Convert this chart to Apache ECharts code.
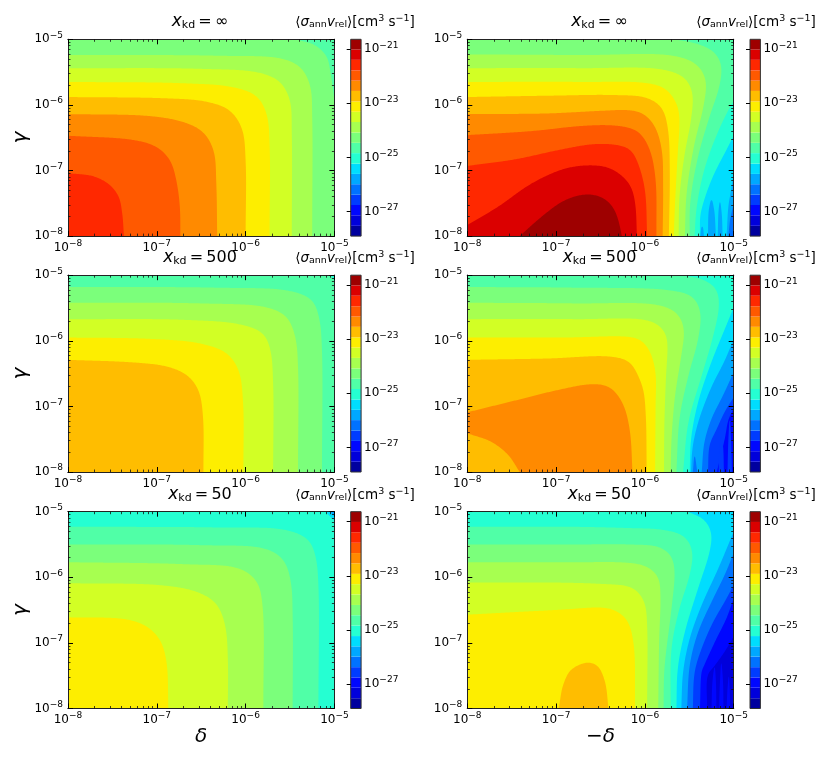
<!DOCTYPE html>
<html><head><meta charset="utf-8">
<style>html,body{margin:0;padding:0;background:#fff}#c{width:831px;height:760px}</style>
<script src="https://cdn.jsdelivr.net/npm/echarts@6/dist/echarts.min.js"></script>
</head><body><div id="c"></div>
<script>
// Colour-band edges of the colour bar, log10 of <sigma v> (bottom to top)
const bandEdges = [-27.91,-27.53,-27.14,-26.76,-26.38,-25.99,-25.61,-25.23,-24.84,-24.46,-24.08,-23.69,-23.31,-22.93,-22.54,-22.16,-21.78,-21.39,-21.01,-20.63];
const bandColors = ['#00009e','#0000db','#0007ff','#003cff','#0072ff','#00a8ff','#00ddfe','#25ffd2','#50ffa7','#7bff7b','#a7ff50','#d2ff25','#fdee00','#ffbd00','#ff8a00','#ff5900','#ff2800','#db0000','#9e0000'];
const cbarTicks = [-27,-25,-23,-21];
const axisTicks = [-8,-7,-6,-5];
const minorFractions = [0.301,0.477,0.602,0.699,0.778,0.845,0.903,0.954];

// Contours: [band, [[log10 delta, log10 gamma], ...]], painted in order.
const infPosBase = 8;
const infPos = [
 [9,[[-5.44,-5],[-5.22,-5.09],[-5.09,-5.26],[-5.04,-5.54],[-5,-5.93]]],
 [10,[[-8,-5.24],[-6.33,-5.25],[-5.57,-5.3],[-5.37,-5.44],[-5.27,-5.72],[-5.25,-6.18],[-5.25,-8]]],
 [11,[[-8,-5.44],[-6.51,-5.45],[-5.84,-5.51],[-5.61,-5.65],[-5.5,-5.93],[-5.48,-6.43],[-5.48,-8]]],
 [12,[[-8,-5.65],[-6.7,-5.67],[-6.14,-5.73],[-5.87,-5.87],[-5.76,-6.15],[-5.73,-6.59],[-5.73,-8]]],
 [13,[[-8,-5.88],[-6.89,-5.9],[-6.44,-5.95],[-6.18,-6.08],[-6.04,-6.36],[-6.0,-6.84],[-6.0,-8]]],
 [14,[[-8,-6.14],[-7.08,-6.17],[-6.7,-6.26],[-6.48,-6.41],[-6.36,-6.69],[-6.33,-7.2],[-6.32,-8]]],
 [15,[[-8,-6.47],[-7.26,-6.535],[-7,-6.64],[-6.85,-6.84],[-6.78,-7.15],[-6.74,-7.55],[-6.735,-8]]],
 [16,[[-8,-7.04],[-7.71,-7.09],[-7.53,-7.22],[-7.43,-7.4],[-7.39,-7.65],[-7.37,-8]]]
];
const infNegBase = 6;
const infNeg = [
 [5,[[-5.29,-8],[-5.28,-7.6],[-5.25,-7.44],[-5.22,-7.6],[-5.2,-8]]],
 [5,[[-5.18,-8],[-5.17,-7.6],[-5.155,-7.47],[-5.135,-7.65],[-5.125,-8]]],
 [5,[[-5.375,-8],[-5.36,-7.85],[-5.35,-7.85],[-5.335,-8]]],
 [5,[[-5.08,-8],[-5.06,-7.55],[-5.03,-7.3],[-5,-7.05]]],
 [4,[[-5.06,-8],[-5.04,-7.75],[-5,-7.5]]],
 [7,[[-5,-6.47],[-5.08,-6.68],[-5.23,-7.08],[-5.33,-7.44],[-5.375,-7.69],[-5.38,-8]]],
 [8,[[-5,-5.94],[-5.045,-6.04],[-5.18,-6.42],[-5.33,-6.98],[-5.42,-7.59],[-5.44,-8]]],
 [9,[[-5.68,-5],[-5.46,-5.05],[-5.23,-5.18],[-5.14,-5.38],[-5.16,-5.71],[-5.27,-6.17],[-5.40,-6.78],[-5.49,-7.49],[-5.495,-8]]],
 [10,[[-8,-5.23],[-6.71,-5.24],[-5.68,-5.25],[-5.42,-5.38],[-5.315,-5.61],[-5.34,-6.02],[-5.44,-6.58],[-5.53,-7.34],[-5.55,-8]]],
 [11,[[-8,-5.44],[-6.71,-5.44],[-5.8,-5.46],[-5.55,-5.59],[-5.465,-5.81],[-5.48,-6.22],[-5.55,-6.73],[-5.61,-7.39],[-5.62,-8]]],
 [12,[[-8,-5.65],[-6.71,-5.65],[-5.96,-5.67],[-5.76,-5.76],[-5.63,-6.02],[-5.61,-6.22],[-5.63,-6.73],[-5.66,-7.49],[-5.675,-8]]],
 [13,[[-8,-5.88],[-7.09,-5.86],[-6.34,-5.85],[-5.98,-5.89],[-5.81,-6.04],[-5.74,-6.37],[-5.72,-6.98],[-5.73,-8]]],
 [14,[[-8,-6.14],[-7.09,-6.13],[-6.49,-6.09],[-6.17,-6.08],[-6.02,-6.13],[-5.89,-6.32],[-5.81,-6.68],[-5.795,-7.24],[-5.8,-8]]],
 [15,[[-8,-6.46],[-7.28,-6.40],[-6.71,-6.32],[-6.38,-6.31],[-6.17,-6.35],[-6.06,-6.42],[-5.945,-6.68],[-5.88,-7.13],[-5.87,-8]]],
 [16,[[-8,-6.93],[-7.46,-6.83],[-6.98,-6.69],[-6.6,-6.6],[-6.38,-6.6],[-6.17,-6.67],[-6.08,-6.88],[-6.0,-7.29],[-5.975,-8]]],
 [17,[[-8,-7.83],[-7.65,-7.55],[-7.28,-7.2],[-6.9,-6.97],[-6.6,-6.92],[-6.38,-6.97],[-6.17,-7.21],[-6.11,-7.49],[-6.09,-8]]],
 [18,[[-7.41,-8],[-7.16,-7.7],[-6.9,-7.45],[-6.64,-7.36],[-6.45,-7.43],[-6.34,-7.6],[-6.28,-7.86],[-6.26,-8]]]
];
const k500PosBase = 8;
const k500Pos = [
 [7,[[-5,-5.08],[-5.05,-5]]],
 [9,[[-8,-5.18],[-6.33,-5.19],[-5.5,-5.24],[-5.25,-5.38],[-5.17,-5.66],[-5.14,-6.14],[-5.14,-8]]],
 [10,[[-8,-5.42],[-6.51,-5.43],[-5.76,-5.49],[-5.54,-5.63],[-5.44,-5.94],[-5.41,-6.39],[-5.41,-8]]],
 [11,[[-8,-5.67],[-6.7,-5.68],[-6.06,-5.75],[-5.8,-5.89],[-5.72,-6.14],[-5.69,-6.65],[-5.69,-8]]],
 [12,[[-8,-5.95],[-7.08,-5.97],[-6.51,-6.04],[-6.21,-6.19],[-6.08,-6.44],[-6.03,-6.9],[-6.025,-8]]],
 [13,[[-8,-6.29],[-7.26,-6.33],[-6.89,-6.39],[-6.66,-6.52],[-6.53,-6.75],[-6.48,-7.15],[-6.475,-8]]]
];
const k500NegBase = 2;
const k500Neg = [
 [3,[[-5,-7.03],[-5.06,-7.21],[-5.10,-7.49],[-5.19,-8]]],
 [3,[[-5.17,-8],[-5.16,-7.6],[-5.14,-7.45],[-5.12,-7.6],[-5.11,-8]]],
 [3,[[-5.07,-8],[-5.06,-7.5],[-5.045,-7.2],[-5.03,-7.5],[-5.02,-8]]],
 [4,[[-5,-6.86],[-5.10,-7.08],[-5.19,-7.34],[-5.27,-7.59],[-5.29,-8]]],
 [5,[[-5,-6.48],[-5.12,-6.83],[-5.25,-7.19],[-5.33,-7.55],[-5.36,-8]]],
 [4,[[-5.46,-8],[-5.44,-7.75],[-5.41,-8]]],
 [6,[[-5,-5.97],[-5.10,-6.30],[-5.25,-6.70],[-5.40,-7.24],[-5.465,-7.64],[-5.48,-8]]],
 [7,[[-5,-5.49],[-5.10,-5.82],[-5.25,-6.32],[-5.40,-6.93],[-5.48,-7.49],[-5.495,-8]]],
 [8,[[-5.61,-5],[-5.345,-5.065],[-5.195,-5.21],[-5.165,-5.46],[-5.23,-5.92],[-5.36,-6.53],[-5.51,-7.24],[-5.57,-8]]],
 [9,[[-8,-5.18],[-6.8,-5.19],[-5.72,-5.23],[-5.46,-5.33],[-5.375,-5.56],[-5.40,-5.97],[-5.51,-6.53],[-5.61,-7.18],[-5.645,-8]]],
 [10,[[-8,-5.42],[-6.8,-5.43],[-5.83,-5.46],[-5.63,-5.59],[-5.56,-5.82],[-5.59,-6.22],[-5.66,-6.83],[-5.70,-7.49],[-5.71,-8]]],
 [11,[[-8,-5.67],[-6.8,-5.67],[-5.91,-5.71],[-5.765,-5.89],[-5.745,-6.12],[-5.76,-6.48],[-5.78,-7.24],[-5.785,-8]]],
 [12,[[-8,-5.95],[-6.9,-5.95],[-6.17,-5.94],[-6.04,-5.99],[-5.94,-6.17],[-5.88,-6.48],[-5.88,-6.98],[-5.885,-8]]],
 [13,[[-8,-6.29],[-7.09,-6.27],[-6.38,-6.24],[-6.17,-6.32],[-6.095,-6.48],[-6.02,-6.73],[-5.99,-7.13],[-5.98,-8]]],
 [14,[[-8,-7.09],[-7.46,-6.91],[-6.98,-6.75],[-6.6,-6.66],[-6.4,-6.7],[-6.25,-6.95],[-6.17,-7.36],[-6.14,-8]]],
 [13,[[-8,-7.41],[-7.73,-7.54],[-7.54,-7.74],[-7.41,-8]]]
];
const k50PosBase = 7;
const k50Pos = [
 [6,[[-5,-5.14],[-5.1,-5]]],
 [5,[[-5,-5.07],[-5.05,-5]]],
 [8,[[-8,-5.23],[-6.33,-5.24],[-5.54,-5.28],[-5.29,-5.43],[-5.21,-5.69],[-5.18,-6.12],[-5.18,-8]]],
 [9,[[-8,-5.5],[-6.51,-5.51],[-5.76,-5.57],[-5.57,-5.74],[-5.49,-6.07],[-5.47,-6.6],[-5.47,-8]]],
 [10,[[-8,-5.77],[-6.7,-5.8],[-6.06,-5.87],[-5.87,-6.07],[-5.81,-6.42],[-5.8,-8]]],
 [11,[[-8,-6.09],[-6.96,-6.12],[-6.55,-6.22],[-6.33,-6.40],[-6.23,-6.73],[-6.2,-7.24],[-6.2,-8]]],
 [12,[[-8,-6.61],[-7.34,-6.64],[-7.11,-6.75],[-6.96,-6.96],[-6.89,-7.29],[-6.87,-8]]]
];
const k50NegBase = 1;
const k50Neg = [
 [2,[[-5,-6.90],[-5.10,-7.13],[-5.21,-7.34],[-5.29,-7.49],[-5.30,-8]]],
 [2,[[-5.25,-8],[-5.24,-7.6],[-5.215,-7.36],[-5.2,-7.6],[-5.195,-8]]],
 [2,[[-5.165,-8],[-5.155,-7.6],[-5.14,-7.3],[-5.12,-7.6],[-5.115,-8]]],
 [2,[[-5.08,-8],[-5.07,-7.7],[-5.055,-7.5],[-5.045,-7.7],[-5.04,-8]]],
 [3,[[-5,-6.32],[-5.08,-6.62],[-5.21,-6.98],[-5.33,-7.335],[-5.36,-7.44],[-5.38,-8]]],
 [4,[[-5,-6.115],[-5.10,-6.37],[-5.23,-6.675],[-5.36,-7.08],[-5.44,-7.44],[-5.46,-8]]],
 [5,[[-5,-5.63],[-5.10,-5.96],[-5.23,-6.32],[-5.40,-6.83],[-5.495,-7.335],[-5.525,-8]]],
 [6,[[-5,-5.30],[-5.06,-5.5],[-5.18,-5.885],[-5.36,-6.42],[-5.495,-6.93],[-5.57,-7.44],[-5.59,-8]]],
 [7,[[-5.52,-5],[-5.33,-5.12],[-5.25,-5.325],[-5.27,-5.605],[-5.40,-6.165],[-5.55,-6.83],[-5.63,-7.39],[-5.645,-8]]],
 [8,[[-8,-5.23],[-6.8,-5.23],[-6.17,-5.25],[-5.80,-5.275],[-5.55,-5.38],[-5.465,-5.605],[-5.495,-5.96],[-5.61,-6.47],[-5.70,-7.08],[-5.71,-8]]],
 [9,[[-8,-5.5],[-6.8,-5.5],[-6.17,-5.50],[-5.83,-5.54],[-5.70,-5.68],[-5.665,-5.91],[-5.70,-6.47],[-5.78,-7.39],[-5.79,-8]]],
 [10,[[-8,-5.77],[-6.8,-5.77],[-6.17,-5.78],[-5.98,-5.835],[-5.85,-5.99],[-5.825,-6.27],[-5.84,-6.98],[-5.85,-8]]],
 [11,[[-8,-6.08],[-7.0,-6.08],[-6.5,-6.10],[-6.17,-6.14],[-6.08,-6.215],[-6.0,-6.395],[-5.975,-6.725],[-5.975,-8]]],
 [12,[[-8,-6.57],[-7.46,-6.53],[-6.9,-6.49],[-6.56,-6.46],[-6.38,-6.48],[-6.21,-6.63],[-6.13,-6.98],[-6.11,-8]]],
 [13,[[-6.97,-8],[-6.92,-7.64],[-6.83,-7.41],[-6.64,-7.30],[-6.53,-7.36],[-6.45,-7.59],[-6.41,-8]]]
];

const titles = ['\u221e','\u221e','500','500','50','50'];
const unitText = '{n|\u27e8}{i|\u03c3}{s|ann}{i|v}{s|rel}{n|\u27e9[cm}{p|3}{n| s}{p|\u22121}{n|]}';

// ---- layout ----
const FONT = 'DejaVu Sans';
const colLeft = [68, 467.3], panelW = 266.4;
const rowTop = [39.3, 275.2, 511.7], panelH = 196.8;
const cbarLeft = [350.7, 750], cbarW = 10.4;
const panels = [
 {base:infPosBase, c:infPos, r:0, col:0},
 {base:infNegBase, c:infNeg, r:0, col:1},
 {base:k500PosBase, c:k500Pos, r:1, col:0},
 {base:k500NegBase, c:k500Neg, r:1, col:1},
 {base:k50PosBase, c:k50Pos, r:2, col:0},
 {base:k50NegBase, c:k50Neg, r:2, col:1}
];
const minorTicks = [];
[-8,-7,-6].forEach(d => minorFractions.forEach(f => minorTicks.push(d + f)));

// Centripetal Catmull-Rom through contour knots, in pixels
function spline(P) {
  if (P.length < 3) return P.slice();
  const pts = [[2*P[0][0]-P[1][0], 2*P[0][1]-P[1][1]], ...P,
               [2*P[P.length-1][0]-P[P.length-2][0], 2*P[P.length-1][1]-P[P.length-2][1]]];
  const out = [P[0]];
  const lerp = (a,b,ta,tb,t) => { const d = tb-ta || 1e-6; return [a[0]*(tb-t)/d + b[0]*(t-ta)/d, a[1]*(tb-t)/d + b[1]*(t-ta)/d]; };
  const dist = (a,b) => Math.max(Math.sqrt(Math.hypot(a[0]-b[0], a[1]-b[1])), 1e-3);
  for (let i = 0; i + 3 < pts.length; i++) {
    const [p0,p1,p2,p3] = [pts[i],pts[i+1],pts[i+2],pts[i+3]];
    const t0 = 0, t1 = t0+dist(p0,p1), t2 = t1+dist(p1,p2), t3 = t2+dist(p2,p3);
    for (let k = 1; k <= 14; k++) {
      const t = t1 + (t2-t1)*k/14;
      const a1 = lerp(p0,p1,t0,t1,t), a2 = lerp(p1,p2,t1,t2,t), a3 = lerp(p2,p3,t2,t3,t);
      const b1 = lerp(a1,a2,t0,t2,t), b2 = lerp(a2,a3,t1,t3,t);
      out.push(lerp(b1,b2,t1,t2,t));
    }
  }
  return out;
}
// Rounds kinks left by the sparse knots: even arc-length resampling, then a small running mean
function soften(line) {
  const seg = [];
  let L = 0;
  for (let i = 1; i < line.length; i++) { const d = Math.hypot(line[i][0]-line[i-1][0], line[i][1]-line[i-1][1]); seg.push(d); L += d; }
  if (L < 3) return line;
  const n = Math.ceil(L), res = [];
  let j = 0, acc = 0;
  for (let k = 0; k <= n; k++) {
    const s = L*k/n;
    while (j < seg.length-1 && acc + seg[j] < s) { acc += seg[j]; j++; }
    const f = seg[j] ? Math.min(1,(s-acc)/seg[j]) : 0;
    res.push([line[j][0]+(line[j+1][0]-line[j][0])*f, line[j][1]+(line[j+1][1]-line[j][1])*f]);
  }
  const w = L < 120 ? 1 : 6;
  let cur = res;
  for (let pass = 0; pass < 2; pass++) {
    cur = cur.map((_, i) => {
      const win = Math.min(w, i, cur.length-1-i);
      let sx = 0, sy = 0;
      for (let q = i-win; q <= i+win; q++) { sx += cur[q][0]; sy += cur[q][1]; }
      return [sx/(2*win+1), sy/(2*win+1)];
    });
  }
  return cur;
}
const perim = ([x,y]) => Math.abs(y+5)<1e-6 ? x+8 : Math.abs(x+5)<1e-6 ? 3+(-5-y) : Math.abs(y+8)<1e-6 ? 6+(-5-x) : 9+(y+8);
const cornerAt = {3:[-5,-5],6:[-5,-8],9:[-8,-8],12:[-8,-5],15:[-5,-5],18:[-5,-8],21:[-8,-8]};
function closure(knots) {
  const sEnd = perim(knots[knots.length-1]);
  let sStart = perim(knots[0]);
  if (sStart <= sEnd) sStart += 12;
  return [3,6,9,12,15,18,21].filter(c => c > sEnd && c < sStart).map(c => cornerAt[c]);
}
function contourSeries(p, axisIdx) {
  const items = [{band:p.base, knots:null}].concat(p.c.map(([band,knots]) => ({band,knots})));
  return {
    type:'custom', coordinateSystem:'cartesian2d', xAxisIndex:axisIdx.x, yAxisIndex:axisIdx.y,
    silent:true, animation:false, z:1,
    data: items.map((_, i) => [i]),
    renderItem(params, api) {
      const it = items[params.dataIndex], cs = params.coordSys;
      let pts;
      if (!it.knots) pts = [[-8,-5],[-5,-5],[-5,-8],[-8,-8]].map(v => api.coord(v));
      else pts = soften(spline(it.knots.map(v => api.coord(v)))).concat(closure(it.knots).map(v => api.coord(v)));
      pts = pts.map(([x,y]) => [Math.min(cs.x+cs.width, Math.max(cs.x, x)), Math.min(cs.y+cs.height, Math.max(cs.y, y))]);
      return {type:'polygon', shape:{points:pts}, style:{fill:bandColors[it.band]}};
    }
  };
}
function cbarSeries(axisIdx) {
  const n = bandColors.length;
  return {
    type:'custom', coordinateSystem:'cartesian2d', xAxisIndex:axisIdx.x, yAxisIndex:axisIdx.y,
    silent:true, animation:false, z:1,
    data: Array.from({length:n+1}, (_, i) => [i]),
    renderItem(params, api) {
      const i = params.dataIndex;
      const lo = i < n ? bandEdges[i] : bandEdges[0], hi = i < n ? bandEdges[i+1] : bandEdges[n];
      const a = api.coord([0,hi]), b = api.coord([1,lo]);
      const shape = {x:a[0], y:a[1], width:b[0]-a[0], height:b[1]-a[1]};
      return i < n
        ? {type:'rect', shape, style:{fill:bandColors[i]}}
        : {type:'rect', z2:10, shape, style:{fill:'none', stroke:'#333', lineWidth:1}};
    }
  };
}
const tickRich = {
  a:{fontFamily:FONT, fontSize:12, color:'#000'},
  b:{fontFamily:FONT, fontSize:9, color:'#000', padding:[0,0,8,0]}
};
const fmtPow = v => `{a|10}{b|\u2212${Math.abs(Math.round(v))}}`;
const mathRich = {
  n:{fontFamily:FONT, fontSize:13.5, color:'#000'},
  i:{fontFamily:FONT, fontSize:13.5, fontStyle:'italic', color:'#000'},
  s:{fontFamily:FONT, fontSize:9.5, color:'#000', padding:[5,0,0,0]},
  p:{fontFamily:FONT, fontSize:9.5, color:'#000', padding:[0,0,6,0]}
};
const titleRich = {
  n:{fontFamily:FONT, fontSize:16, color:'#000'},
  i:{fontFamily:FONT, fontSize:17, fontStyle:'italic', color:'#000'},
  s:{fontFamily:FONT, fontSize:11, color:'#000', padding:[6,0,0,0]}
};
const line = {show:true, lineStyle:{color:'#222', width:1}};

const grids = [], xAxes = [], yAxes = [], series = [], graphics = [];
function axisBase(extra) {
  return Object.assign({type:'value', min:-8, max:-5, z:5, splitLine:{show:false}, axisLine:line,
    axisLabel:{show:false}, axisTick:{show:false}}, extra);
}
panels.forEach((p, idx) => {
  const left = colLeft[p.col], top = rowTop[p.r];
  const g = grids.length;
  grids.push({left, top, width:panelW, height:panelH, containLabel:false});
  const xi = xAxes.length, yi = yAxes.length;
  const major = {show:true, inside:true, length:5, customValues:axisTicks, lineStyle:{color:'#000', width:1}};
  const minor = {show:true, inside:true, length:2.5, customValues:minorTicks, lineStyle:{color:'#111', width:0.8}};
  const xName = p.r === 2 ? (p.col === 0 ? '{i|\u03b4}' : '{n|\u2212}{i|\u03b4}') : '';
  xAxes.push(axisBase({gridIndex:g, position:'bottom', axisTick:major, name:xName, nameLocation:'middle', nameGap:18,
      nameTextStyle:{rich:{i:{fontFamily:FONT, fontSize:20, fontStyle:'italic', color:'#000'}, n:{fontFamily:FONT, fontSize:20, color:'#000'}}},
      axisLabel:{show:true, customValues:axisTicks, formatter:fmtPow, rich:tickRich, margin:3, hideOverlap:false, showMinLabel:true, showMaxLabel:true}}));
  xAxes.push(axisBase({gridIndex:g, position:'top', axisTick:major}));
  xAxes.push(axisBase({gridIndex:g, position:'bottom', axisTick:minor}));
  xAxes.push(axisBase({gridIndex:g, position:'top', axisTick:minor}));
  yAxes.push(axisBase({gridIndex:g, position:'left', axisTick:major,
      name:p.col === 0 ? '\u03b3' : '', nameLocation:'middle', nameGap:35, nameRotate:90,
      nameTextStyle:{fontFamily:FONT, fontSize:20, fontStyle:'italic', color:'#000'},
      axisLabel:{show:true, customValues:axisTicks, formatter:fmtPow, rich:tickRich, margin:5, hideOverlap:false, showMinLabel:true, showMaxLabel:true}}));
  yAxes.push(axisBase({gridIndex:g, position:'right', axisTick:major}));
  yAxes.push(axisBase({gridIndex:g, position:'left', axisTick:minor}));
  yAxes.push(axisBase({gridIndex:g, position:'right', axisTick:minor}));
  series.push(contourSeries(p, {x:xi, y:yi}));

  // colour bar
  const cg = grids.length;
  grids.push({left:cbarLeft[p.col], top, width:cbarW, height:panelH});
  const cx = xAxes.length, cy = yAxes.length;
  xAxes.push({type:'value', gridIndex:cg, min:0, max:1, show:false});
  yAxes.push({type:'value', gridIndex:cg, position:'right', min:bandEdges[0], max:bandEdges[bandEdges.length-1], z:5,
    splitLine:{show:false}, axisLine:{show:false},
    axisTick:{show:true, inside:true, length:4, customValues:cbarTicks, lineStyle:{color:'#000', width:1}},
    axisLabel:{show:true, customValues:cbarTicks, formatter:fmtPow, rich:tickRich, margin:3, hideOverlap:false}});
  series.push(cbarSeries({x:cx, y:cy}));

  // titles
  const titleY = [22, 258, 495][p.r];
  graphics.push({type:'text', x:[200,599.5][p.col], y:titleY, silent:true, style:{
    text:`{i|x}{s|kd}{n|\u2009=\u2009${titles[idx]}}`, rich:titleRich, align:'center', verticalAlign:'middle'}});
  graphics.push({type:'text', x:[355,756][p.col], y:titleY, silent:true, style:{
    text:unitText, rich:mathRich, align:'center', verticalAlign:'middle'}});
});

const chart = echarts.init(document.getElementById('c'), null, {renderer:'canvas', width:831, height:760});
chart.setOption({
  animation:false, backgroundColor:'#fff', textStyle:{fontFamily:FONT},
  grid:grids, xAxis:xAxes, yAxis:yAxes, series, graphic:{elements:graphics}, tooltip:{show:false}
});
</script></body></html>
